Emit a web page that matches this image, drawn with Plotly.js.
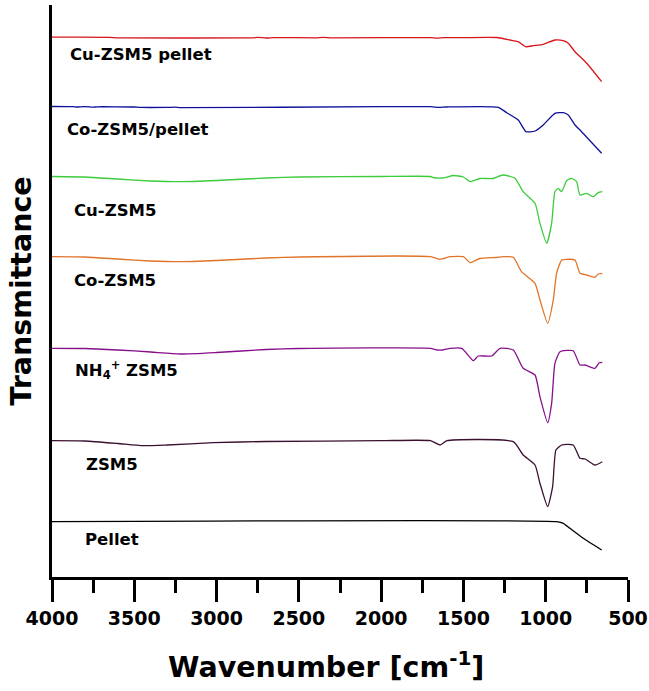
<!DOCTYPE html>
<html>
<head>
<meta charset="utf-8">
<script src="https://cdn.plot.ly/plotly-3.0.1.min.js"></script>
<style>html,body{margin:0;padding:0;background:#fff;}#chart{width:649px;height:691px;}</style>
</head>
<body>
<div id="chart"></div>
<script>
// Wavenumber (cm-1) and offset transmittance (a.u.)
const seriesNames = ["Cu-ZSM5 pellet", "Co-ZSM5/pellet", "Cu-ZSM5", "Co-ZSM5", "NH4+ ZSM5", "ZSM5", "Pellet"];
const labelTexts = ["Cu-ZSM5 pellet", "Co-ZSM5/pellet", "Cu-ZSM5", "Co-ZSM5", "NH<sub>4</sub><sup>+</sup> ZSM5", "ZSM5", "Pellet"];

const cuPelletWn = [4000, 3650, 3600, 2780, 2750, 2700, 2650, 2400, 2350, 2300, 1700, 1660, 1620, 1500, 1298, 1217, 1167, 1120, 1076, 1015, 944, 893, 863, 822, 751, 660];
const cuPelletT  = [539.8, 539.7, 539.2, 539.2, 539.6, 539.0, 539.4, 539.2, 539.6, 539.2, 539.3, 538.8, 539.3, 539.4, 539.5, 537, 535.3, 530.3, 531.3, 532.7, 537, 536.3, 533.7, 525.3, 513.7, 495.3];

const coPelletWn = [4000, 3870, 3850, 3800, 3750, 3725, 3500, 3465, 3300, 3250, 3220, 2000, 1700, 1650, 1600, 1288, 1237, 1167, 1120, 1065, 1015, 944, 893, 863, 822, 782, 660];
const coPelletT  = [470.5, 470.3, 470.0, 470.4, 469.8, 470.2, 470.0, 469.6, 469.6, 469.8, 469.4, 470.3, 470.3, 469.6, 470.0, 469.7, 464.3, 457, 445.3, 446, 452, 463.7, 464.3, 462, 452, 445.3, 423.7];

const cuZsm5Wn = [4000, 3800, 3600, 3400, 3220, 3000, 2700, 2490, 2000, 1700, 1685, 1625, 1560, 1500, 1460, 1400, 1320, 1260, 1187, 1137, 1065, 1035, 994, 964, 944, 924, 903, 873, 842, 812, 792, 751, 711, 681, 656];
const cuZsm5T  = [400.5, 400, 398, 396, 395.3, 396.5, 399, 400, 400.5, 400.5, 399.5, 399, 401.5, 400, 395.3, 398.5, 398.5, 402, 398.7, 385.3, 373.7, 353.7, 333.7, 353.7, 385.3, 388.7, 385.3, 396.3, 398.7, 395.3, 382, 383.7, 380.3, 384.3, 385.3];

const coZsm5Wn = [4000, 3800, 3600, 3400, 3220, 3000, 2700, 2490, 1700, 1642, 1580, 1500, 1460, 1400, 1300, 1260, 1197, 1147, 1065, 1035, 988, 954, 934, 903, 873, 822, 792, 751, 701, 681, 656];
const coZsm5T  = [320.3, 320, 318, 316, 315.3, 316.5, 319, 320, 320.3, 317.7, 320.3, 320.3, 314.3, 318.5, 319.5, 320.3, 319.7, 305.3, 293.7, 277, 253.7, 277, 303.7, 317, 317.7, 317, 303.7, 302, 299.7, 303, 303.7];

const nh4Zsm5Wn = [4000, 3800, 3600, 3400, 3220, 3000, 2700, 2500, 1700, 1660, 1625, 1580, 1510, 1440, 1410, 1328, 1278, 1197, 1137, 1065, 1035, 988, 964, 944, 913, 833, 792, 760, 701, 675, 656];
const nh4Zsm5T  = [228.7, 228.5, 227, 225, 223, 224.5, 227.5, 228.5, 228.7, 227, 227, 228.7, 228.7, 216.3, 221, 221, 228.7, 227, 208.7, 202, 180.3, 154.3, 173.7, 213.7, 225.3, 226.3, 212, 212, 208.7, 214.3, 214.7];

const zsm5Wn = [4000, 3800, 3600, 3447, 3300, 3020, 2700, 2000, 1700, 1642, 1600, 1197, 1137, 1065, 1035, 988, 958, 938, 903, 833, 792, 760, 701, 656];
const zsm5T  = [136.3, 136, 133.5, 131.3, 132, 134.3, 135.5, 136.3, 136.3, 132, 136.3, 135.3, 122, 112, 93.7, 70.3, 90.3, 127, 132, 132, 118.7, 118, 112, 115.3];

const pelletWn = [4000, 934, 893, 853, 772, 660];
const pelletT  = [55.3, 55.3, 53.7, 48.7, 38.7, 27];

const xTickVals = [4000, 3500, 3000, 2500, 2000, 1500, 1000, 500];
const xTickText = ["4000", "3500", "3000", "2500", "2000", "1500", "1000", "500"];

const colors = ["#d8141c", "#10109a", "#3ccc3c", "#e07428", "#86108a", "#3c1030", "#000000"];
const labelX = [0.028, 0.023, 0.035, 0.035, 0.037, 0.056, 0.054];
const labelY = [0.914, 0.783, 0.640, 0.519, 0.362, 0.196, 0.065];

const xs = [cuPelletWn, coPelletWn, cuZsm5Wn, coZsm5Wn, nh4Zsm5Wn, zsm5Wn, pelletWn];
const ys = [cuPelletT, coPelletT, cuZsm5T, coZsm5T, nh4Zsm5T, zsm5T, pelletT];

const traces = seriesNames.map((n, i) => ({
  type: "scatter", mode: "lines", name: n,
  x: xs[i], y: ys[i],
  line: {color: colors[i], width: 1.3, shape: "spline", smoothing: 0.5}
}));

const bold = (s) => ({family: "DejaVu Sans, Verdana, sans-serif", size: s, color: "#000", weight: "bold"});

const annotations = labelTexts.map((t, i) => ({
  text: t, xref: "paper", yref: "paper", x: labelX[i], y: labelY[i],
  xanchor: "left", yanchor: "middle", showarrow: false, font: bold(16.5)
}));
annotations.push({
  text: "Wavenumber [cm<sup>-1</sup>]", xref: "paper", yref: "paper",
  x: 0.4757, y: -0.153, xanchor: "center", yanchor: "middle",
  showarrow: false, font: bold(28.5)
});

const layout = {
  width: 649, height: 691,
  margin: {l: 52, r: 21, t: 5, b: 114},
  paper_bgcolor: "#fff", plot_bgcolor: "#fff",
  showlegend: false,
  xaxis: {
    range: [4000, 500], tickvals: xTickVals, ticktext: xTickText,
    ticks: "outside", ticklen: 22, tickwidth: 3, tickcolor: "#000",
    minor: {dtick: 250, tick0: 500, ticks: "outside", ticklen: 13, tickwidth: 3, tickcolor: "#000", showgrid: false},
    showline: true, linewidth: 3, linecolor: "#000",
    showgrid: false, zeroline: false,
    tickfont: bold(19), ticklabelstandoff: 0
  },
  yaxis: {
    range: [0, 572], showticklabels: false, ticks: "",
    showline: true, linewidth: 3, linecolor: "#000",
    showgrid: false, zeroline: false,
    title: {text: "Transmittance", font: bold(28.5), standoff: 10}
  },
  annotations: annotations
};

Plotly.newPlot("chart", traces, layout, {displayModeBar: false, staticPlot: true});
</script>
</body>
</html>
